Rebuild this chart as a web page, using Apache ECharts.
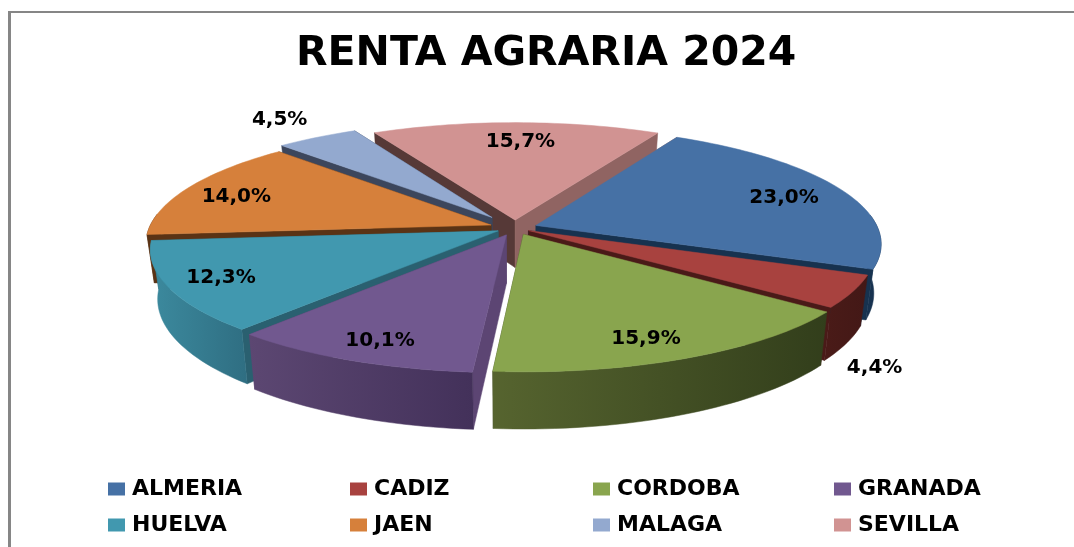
<!DOCTYPE html>
<html><head><meta charset="utf-8">
<style>html,body{margin:0;padding:0;background:#fff}#c{width:1074px;height:547px}</style>
<script src="https://cdn.jsdelivr.net/npm/echarts@6/dist/echarts.min.js"></script>
</head><body><div id="c"></div>
<script>
const titleText = 'RENTA AGRARIA 2024';
const categories = ['ALMERIA','CADIZ','CORDOBA','GRANADA','HUELVA','JAEN','MALAGA','SEVILLA'];
const shares = [23.0,4.4,15.9,10.1,12.3,14.0,4.5,15.7];

const topColors  = ['#4671A5','#A8423F','#89A54E','#71588F','#4198AF','#D6803B','#93A9CF','#D19392'];
const wallStart  = ['#906462','#17324F','#4A1A18','#5C4573','#2A6070','#5A3315','#3C465C','#563937'];
const wallEnd    = ['#17324F','#4A1A18','#3A4520','#5C4573','#2A6070','#5A3315','#3C465C','#906462'];
const rimLeft    = ['#1B3A5E','#4A1B18','#56642F','#5C4772','#3C8A9E','#5A3315','#3C465C','#563937'];
const rimRight   = ['#17324F','#431816','#323E1B','#43315A','#2F6E82','#5A3315','#3C465C','#563937'];
const paintOrder = [7,6,5,0,4,1,3,2];
const slicePull  = [0.065,0.045,0.06,0.065,0.055,0.075,0.115,0.07];
const labelReach = [0.863,1.36,0.91,0.923,0.904,0.897,1.36,0.848];
const labelTurn  = [1.7,20,2.6,-0.9,0,-1.9,0,1];

const view = {cx:515, cy:228, rx:342, ry:114.5, persp:0.152, depth:48, taper:0.98, start:-61.5};
const rad = d => d*Math.PI/180;
const total = shares.reduce((a,b)=>a+b,0);
function project(gx,gy,low){
  const k = 1/(1-view.persp*gy);
  let x = view.cx + view.rx*gx*k, y = view.cy + view.ry*gy*k;
  if(low){ x = view.cx + (x-view.cx)*view.taper; y += view.depth*k; }
  return [x,y];
}
function sliceShapes(i){
  let a0 = view.start;
  for(let j=0;j<i;j++) a0 += shares[j]/total*360;
  const a1 = a0 + shares[i]/total*360, mid=(a0+a1)/2;
  const ox = slicePull[i]*Math.cos(rad(mid)), oy = slicePull[i]*Math.sin(rad(mid));
  const angles = []; const n=Math.max(8,Math.ceil((a1-a0)/1.5));
  for(let s=0;s<=n;s++) angles.push(a0+(a1-a0)*s/n);
  const pt = (a,low) => project(ox+Math.cos(rad(a)),oy+Math.sin(rad(a)),low);
  const up = angles.map(a=>pt(a,false)), dn = angles.map(a=>pt(a,true));
  const facing = angles.filter(a=>Math.sin(rad(a))>-0.1);
  const upF = facing.map(a=>pt(a,false)), dnF = facing.map(a=>pt(a,true));
  const apexU = project(ox,oy,false), apexD = project(ox,oy,true);
  const poly = (points,fill)=>({type:'polygon',shape:{points},style:{fill,stroke:fill,lineWidth:0.5}});
  const xs = up.concat(dn).map(p=>p[0]);
  const grad = {type:'linear',global:true,x:Math.min(...xs),y:0,x2:Math.max(...xs),y2:0,
    colorStops:[{offset:0,color:rimLeft[i]},{offset:1,color:rimRight[i]}]};
  const parts = [
    poly([apexU,up[0],dn[0],apexD],wallStart[i]),
    poly([apexU,up[up.length-1],dn[dn.length-1],apexD],wallEnd[i])
  ];
  if(facing.length>1) parts.push(poly(upF.concat(dnF.slice().reverse()),grad));
  parts.push(poly([apexU].concat(up),topColors[i]));
  return parts;
}
function labelOf(i){
  let a0 = view.start;
  for(let j=0;j<i;j++) a0 += shares[j]/total*360;
  const mid = a0 + shares[i]/total*180 + labelTurn[i];
  const p = project(labelReach[i]*Math.cos(rad(mid)),labelReach[i]*Math.sin(rad(mid)),false);
  return {type:'text',z2:100,x:p[0],y:p[1],style:{
    text:shares[i].toFixed(1).replace('.',',')+'%',
    x:0,y:0,align:'center',verticalAlign:'middle',
    font:'bold 20px "DejaVu Sans"',fill:'#000'}};
}
const sliceSeries = categories.map((name,i)=>({
  name,type:'custom',coordinateSystem:'none',
  z:2+paintOrder.indexOf(i),
  itemStyle:{color:topColors[i]},
  data:[[shares[i]]],
  renderItem:()=>({type:'group',children:sliceShapes(i)})
}));
const labelSeries = {
  type:'custom',coordinateSystem:'none',z:30,silent:true,
  data:shares.map((v,i)=>[i,v]),
  renderItem:(p,api)=>labelOf(api.value(0))
};
const legendColumn = (names,left)=>({
  data:names,left,top:473,orient:'vertical',itemGap:14,itemWidth:17,itemHeight:13,
  icon:'rect',selectedMode:false,
  textStyle:{fontFamily:'DejaVu Sans',fontWeight:'bold',fontSize:22,color:'#000',padding:[0,0,0,2]}
});
const chart = echarts.init(document.getElementById('c'),null,{renderer:'canvas'});
chart.setOption({
  animation:false,
  backgroundColor:'#fff',
  title:{text:titleText,left:291,top:29,
    textStyle:{fontFamily:'DejaVu Sans',fontWeight:'bold',fontSize:41,color:'#000'}},
  legend:[
    legendColumn([categories[0],categories[4]],103),
    legendColumn([categories[1],categories[5]],345),
    legendColumn([categories[2],categories[6]],588),
    legendColumn([categories[3],categories[7]],829)
  ],
  graphic:[
    {type:'line',silent:true,shape:{x1:9.5,y1:11,x2:9.5,y2:547},style:{stroke:'#868686',lineWidth:3}},
    {type:'line',silent:true,shape:{x1:8,y1:12,x2:1074,y2:12},style:{stroke:'#868686',lineWidth:2}}
  ],
  series:sliceSeries.concat([labelSeries])
});
</script></body></html>
